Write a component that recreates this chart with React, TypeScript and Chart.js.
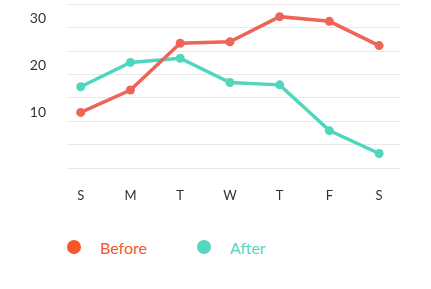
import React, { useEffect, useRef } from "react";
import { Chart, registerables } from "chart.js";

Chart.register(...registerables);

const days = ["S", "M", "T", "W", "T", "F", "S"];
const beforeValues = [11.9, 16.7, 26.7, 27.0, 32.4, 31.4, 26.2];
const afterValues = [17.4, 22.6, 23.5, 18.3, 17.8, 8.0, 3.1];
const yLabelValues = [10, 20, 30];

const RED = "#ee6557";
const TEAL = "#4fd6bd";
const LEGEND_RED = "#f5562a";
const LEGEND_TEAL = "#56d6c1";
const FONT = "Lato, 'Open Sans', sans-serif";

export default function App() {
  const ref = useRef<HTMLCanvasElement | null>(null);

  useEffect(() => {
    if (!ref.current) return;
    const toPoints = (vals: number[]) => vals.map((v, i) => ({ x: i, y: v }));
    const chart = new Chart(ref.current, {
      type: "line",
      data: {
        datasets: [
          {
            label: "Before",
            data: toPoints(beforeValues),
            borderColor: RED,
            backgroundColor: RED,
            borderWidth: 3.5,
            pointRadius: 4.5,
            pointBackgroundColor: RED,
            pointBorderWidth: 0,
            tension: 0,
          },
          {
            label: "After",
            data: toPoints(afterValues),
            borderColor: TEAL,
            backgroundColor: TEAL,
            borderWidth: 3.5,
            pointRadius: 4.5,
            pointBackgroundColor: TEAL,
            pointBorderWidth: 0,
            tension: 0,
          },
        ],
      },
      options: {
        animation: false,
        responsive: false,
        maintainAspectRatio: false,
        layout: { padding: { left: 0, right: 31, top: 4, bottom: 0 } },
        plugins: { legend: { display: false }, tooltip: { enabled: false } },
        scales: {
          x: {
            type: "linear",
            min: -0.276,
            max: 6.42,
            grid: { display: false, drawTicks: false },
            border: { display: false },
            afterBuildTicks: (scale: any) => {
              scale.ticks = days.map((_, i) => ({ value: i }));
            },
            afterFit: (scale: any) => {
              scale.height = 47;
              scale.paddingLeft = 0;
              scale.paddingRight = 0;
            },
            ticks: {
              padding: 20,
              color: "#333333",
              font: { family: FONT, size: 13 },
              callback: (v: any) => days[Math.round(Number(v))] ?? "",
              maxRotation: 0,
              autoSkip: false,
            },
          },
          y: {
            min: 0,
            max: 35,
            grid: { color: "#e9e9e9", lineWidth: 1, drawTicks: false },
            border: { display: false },
            afterBuildTicks: (scale: any) => {
              scale.ticks = [0, 5, 10, 15, 20, 25, 30, 35].map((v) => ({ value: v }));
            },
            afterFit: (scale: any) => {
              scale.width = 67;
              scale.paddingTop = 0;
              scale.paddingBottom = 0;
            },
            ticks: {
              autoSkip: false,
              padding: 21,
              labelOffset: -9,
              color: "#333333",
              font: { family: FONT, size: 14 },
              callback: (v: any) => (yLabelValues.includes(Number(v)) ? String(v) : ""),
            },
          },
        },
      },
    });
    return () => chart.destroy();
  }, []);

  const legendItem = (label: string, dot: string, text: string, left: number) => (
    <div
      style={{
        position: "absolute",
        left,
        top: 238,
        display: "flex",
        alignItems: "center",
        height: 18,
      }}
    >
      <span
        style={{
          width: 14,
          height: 14,
          borderRadius: "50%",
          background: dot,
          display: "inline-block",
          marginRight: 19,
        }}
      />
      <span style={{ color: text, fontFamily: FONT, fontSize: 16 }}>{label}</span>
    </div>
  );

  return (
    <div
      style={{
        position: "fixed",
        left: 0,
        top: 0,
        width: 431,
        height: 289,
        background: "#ffffff",
      }}
    >
      <canvas ref={ref} width={431} height={215} style={{ display: "block" }} />
      {legendItem("Before", LEGEND_RED, LEGEND_RED, 67)}
      {legendItem("After", LEGEND_TEAL, LEGEND_TEAL, 197)}
    </div>
  );
}
